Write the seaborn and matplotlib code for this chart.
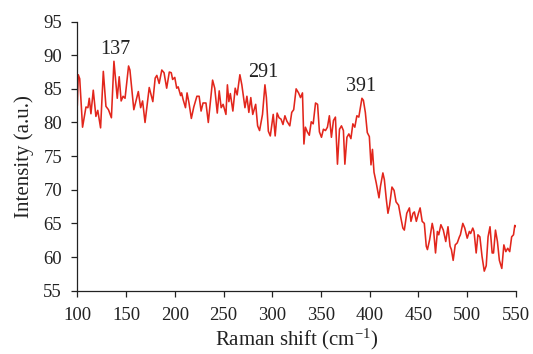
import matplotlib
matplotlib.use("Agg")
import matplotlib.pyplot as plt
import seaborn as sns
import pandas as pd

raman_shift = [
    100, 101, 102.5, 105.4, 108.9, 110.9, 112.3, 114, 116.4, 119.1, 121, 123.9,
    126.7, 129.4, 132, 135, 137.6, 141, 143, 145, 147, 149, 152.6, 154, 158,
    162.6, 165, 167, 169.5, 173.8, 177.5, 179.9, 181.6, 184, 186.7, 189, 191.7,
    194.4, 196.4, 197.8, 200, 202, 203.5, 206, 207, 208.6, 211, 212.6, 214.6,
    217, 219.5, 222.7, 225, 227, 229, 232, 234.4, 238.8, 241, 243.6, 245.6,
    247.6, 249.6, 252.5, 254, 255.5, 257, 259.6, 262, 264, 266.8, 268.8, 272,
    274, 276, 278, 280, 283, 285, 287, 290, 292.5, 294, 296, 298, 301, 303,
    305, 307, 309, 311, 313, 315, 318, 320, 322, 324.5, 327, 329, 331, 332.5,
    334, 336, 338, 340, 342, 344.4, 346.5, 348.4, 350.5, 352.5, 354.6, 356.6,
    358.6, 360.7, 362.8, 364.8, 366.9, 369, 371, 373, 374.5, 376.6, 378.6,
    380.7, 382.7, 384.7, 386.8, 388.8, 392, 393.5, 395.5, 397.5, 399.6, 401.3,
    402.8, 404.4, 406.7, 409.5, 411, 413.5, 415, 417, 418.7, 420.4, 422.8, 425,
    427, 429.6, 431.7, 434, 435.5, 438, 440.7, 442.3, 444.4, 445.8, 447.8, 450,
    451.7, 453.8, 456, 458, 459.2, 461.5, 464.1, 465.5, 467.5, 469.4, 470.8,
    473, 475.5, 478, 480.3, 482.4, 483.8, 485.6, 487.7, 489.8, 492, 493, 495.5,
    497.5, 500, 502.2, 503.5, 505.7, 507, 509.2, 511, 513, 515.2, 517.5, 519.5,
    521.4, 523.4, 525.6, 527, 529, 531, 533, 535.5, 537.6, 539.6, 541.6, 543.6,
    545.6, 547.5, 548.8, 550,
]
intensity = [
    82.5, 87.1, 86.5, 79.3, 82.3, 82.2, 83.6, 81.3, 84.8, 80.9, 81.8, 79.2,
    87.6, 82.4, 81.9, 80.7, 89.1, 83.6, 86.8, 83.2, 83.9, 83.6, 88.4, 87.8, 81.9,
    84.6, 82.2, 83.2, 80.0, 85.2, 83.1, 86.6, 87.0, 85.8, 87.8, 87.4, 85.1,
    87.5, 87.4, 86.4, 86.7, 85.1, 85.3, 84.0, 84.4, 83.4, 82.2, 84.4, 82.9,
    80.6, 82.3, 83.9, 83.9, 81.7, 82.9, 82.9, 80.0, 86.3, 85.1, 81.4, 84.7,
    82.2, 82.7, 81.2, 85.6, 83.1, 84.3, 81.7, 85.1, 84.1, 87.1, 85.6, 82.2,
    83.9, 81.5, 83.7, 81.2, 82.7, 79.5, 78.8, 81.2, 85.6, 83.7, 78.7, 78.0, 81.2, 78.0,
    81.4, 80.7, 80.5, 79.7, 81.0, 80.2, 79.5, 81.5, 81.9, 85.0, 84.4, 83.7, 84.4, 76.8,
    79.3, 78.6, 78.1, 80.1, 79.8, 82.9, 82.7, 78.6, 77.8, 79.0, 78.8, 79.3,
    81.0, 77.8, 80.3, 80.8, 73.8, 79.0, 79.5, 78.8, 73.8, 77.8, 78.3,
    77.6, 79.8, 79.3, 81.0, 80.8, 83.6, 83.3, 81.5, 78.5, 77.9, 73.7,
    76.0, 72.6, 71.0, 68.8, 70.5, 72.5, 71.5, 68.6, 66.5, 67.7, 70.4, 69.9,
    68.2, 67.7, 66.0, 64.3, 64.0, 66.5, 67.3, 65.3, 66.5, 66.7, 65.3, 66.5,
    67.3, 65.3, 65.0, 61.6, 61.1, 62.6, 65.0, 64.0, 60.6, 63.8, 63.3,
    64.8, 64.0, 62.3, 64.5, 61.6, 61.1, 59.5, 61.8, 62.1, 63.0, 63.3, 65.0,
    64.3, 62.8, 63.8, 63.5, 64.3, 63.8, 60.6, 63.3, 63.0, 60.1, 57.9, 58.7,
    63.0, 64.5, 60.6, 60.6, 64.0, 62.3, 59.5, 58.3, 61.8, 60.8, 61.3, 60.8,
    63.0, 63.3, 64.7, 64.5,
]
peak_labels = ["137", "291", "391"]
peak_x = [138.6, 290.6, 390.8]
peak_y = [90.2, 86.8, 84.75]

x_ticks = [100, 150, 200, 250, 300, 350, 400, 450, 500, 550]
y_ticks = [55, 60, 65, 70, 75, 80, 85, 90, 95]

sns.set_theme(style="ticks")
plt.rcParams["font.family"] = ["Liberation Serif", "DejaVu Serif"]
plt.rcParams["mathtext.fontset"] = "custom"
plt.rcParams["mathtext.rm"] = "Liberation Serif"
plt.rcParams["mathtext.it"] = "Liberation Serif:italic"
plt.rcParams["mathtext.default"] = "regular"

df = pd.DataFrame({"shift": raman_shift, "intensity": intensity})

fig = plt.figure(figsize=(5.33, 3.54), dpi=100)
ax = fig.add_axes([0.145, 0.179, 0.823, 0.760])

sns.lineplot(data=df, x="shift", y="intensity", ax=ax, color="#e2261c",
             linewidth=1.15, sort=False)

for lab, px, py in zip(peak_labels, peak_x, peak_y):
    ax.text(px, py, lab, ha="center", va="baseline", fontsize=14.5, color="#222222")

ax.set_xlim(100, 550)
ax.set_ylim(55, 95)
ax.set_xticks(x_ticks)
ax.set_yticks(y_ticks)
ax.tick_params(axis="both", direction="out", length=4, width=0.9,
               labelsize=13.5, colors="#222222")
ax.tick_params(axis="x", pad=7.5)
ax.tick_params(axis="y", pad=7)
for s in ["top", "right"]:
    ax.spines[s].set_visible(False)
for s in ["left", "bottom"]:
    ax.spines[s].set_linewidth(0.9)
    ax.spines[s].set_color("#222222")

ax.set_xlabel("Raman shift (cm$^{-1}$)", fontsize=15, color="#222222", labelpad=2.5)
ax.set_ylabel("Intensity (a.u.)", fontsize=15, color="#222222", labelpad=7)

fig.savefig("out.png", dpi=100)
